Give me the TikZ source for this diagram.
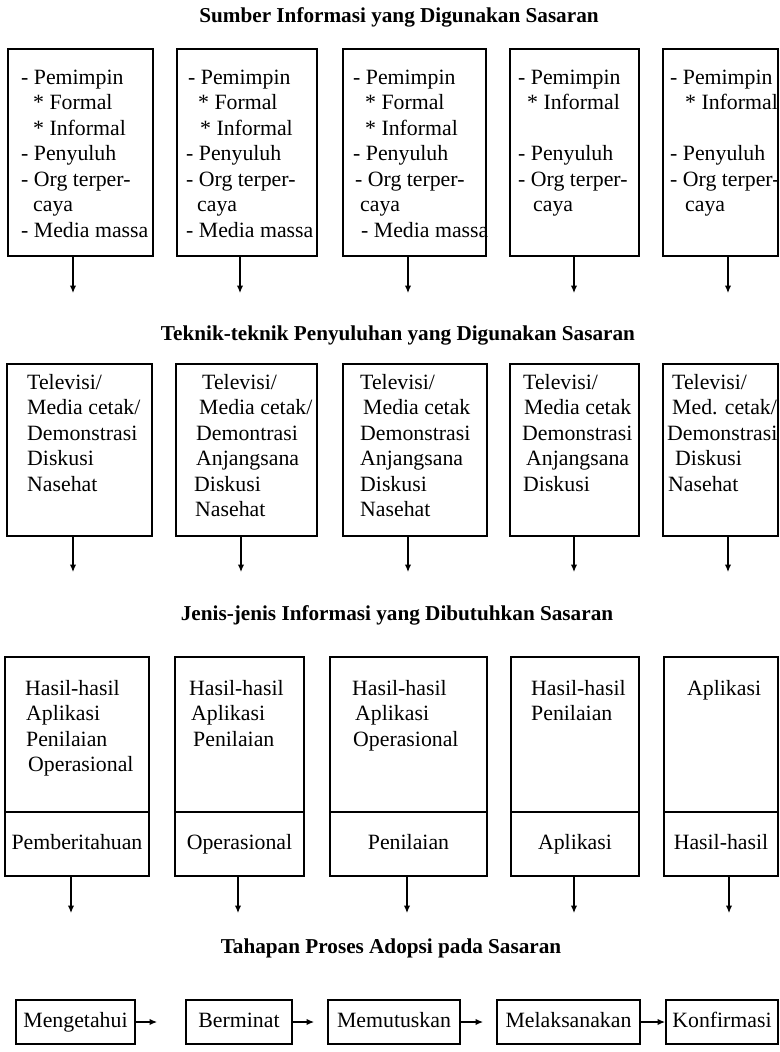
\documentclass[tikz,border=0pt]{standalone}
\usepackage{fontspec}
\setmainfont{Liberation Serif}
\usetikzlibrary{arrows.meta}
\begin{document}
\begin{tikzpicture}[x=1pt,y=-1pt,
  box/.style={draw, line width=1.8pt, rectangle, inner sep=0pt, outer sep=0pt, anchor=north west},
  sz/.style 2 args={minimum width=#1pt, minimum height=#2pt},
  body/.style={font=\fontsize{21.8}{25.5}\selectfont},
  txt/.style={body, anchor=north west, inner sep=0pt, align=left},
  lbl/.style={body, text height=14pt, text depth=4pt},
  ttl/.style={anchor=base, inner sep=0pt, font=\fontsize{21.2}{25}\selectfont\bfseries},
  arr/.style={line width=1.2pt, -{Latex[length=7.5pt,width=6.5pt]}},
]
\useasboundingbox (0,0) rectangle (779,1052);

% ---------- Sumber informasi ----------
\node[ttl] (t1) at (399,23) {Sumber Informasi yang Digunakan Sasaran};

\node[box, sz={145}{207}] (s1) at (8,49) {};
\node[box, sz={140}{207}] (s2) at (177,49) {};
\node[box, sz={143}{207}] (s3) at (343,49) {};
\node[box, sz={129}{207}] (s4) at (510,49) {};
\node[box, sz={115}{207}] (s5) at (663,49) {};

\node[txt] (s1t) at (21,66) {\strut- Pemimpin\\ \hspace*{12pt}* Formal\\ \hspace*{12pt}* Informal\\ - Penyuluh\\ - Org terper-\\ \hspace*{12pt}caya\\ - Media massa};
\node[txt] (s2t) at (186,66) {\strut\hspace*{2pt}- Pemimpin\\ \hspace*{12pt}* Formal\\ \hspace*{14pt}* Informal\\ - Penyuluh\\ - Org terper-\\ \hspace*{11pt}caya\\ - Media massa};
\node[txt] (s3t) at (353,66) {\strut- Pemimpin\\ \hspace*{12pt}* Formal\\ \hspace*{12pt}* Informal\\ - Penyuluh\\ \hspace*{2pt}- Org terper-\\ \hspace*{7pt}caya\\ \hspace*{8pt}- Media massa};
\node[txt] (s4t) at (518,66) {\strut- Pemimpin\\ \hspace*{9pt}* Informal\\[25.5pt] - Penyuluh\\ - Org terper-\\ \hspace*{15pt}caya};
\node[txt] (s5t) at (670,66) {\strut- Pemimpin\\ \hspace*{15pt}* Informal\\[25.5pt] - Penyuluh\\ - Org terper-\\ \hspace*{15pt}caya};

\coordinate (p1) at (73,293);
\coordinate (p2) at (240,293);
\coordinate (p3) at (408,293);
\coordinate (p4) at (574,293);
\coordinate (p5) at (728,293);
\draw[arr] (s1.south -| p1) -- (p1);
\draw[arr] (s2.south -| p2) -- (p2);
\draw[arr] (s3.south -| p3) -- (p3);
\draw[arr] (s4.south -| p4) -- (p4);
\draw[arr] (s5.south -| p5) -- (p5);

% ---------- Teknik penyuluhan ----------
\node[ttl] (t2) at (398,340) {Teknik-teknik Penyuluhan yang Digunakan Sasaran};

\node[box, sz={145}{172}] (k1) at (7,364) {};
\node[box, sz={141}{172}] (k2) at (176,364) {};
\node[box, sz={144}{172}] (k3) at (343,364) {};
\node[box, sz={129}{172}] (k4) at (510,364) {};
\node[box, sz={115}{172}] (k5) at (663,364) {};

\node[txt] (k1t) at (27,371) {\strut Televisi/\\ Media cetak/\\ Demonstrasi\\ Diskusi\\ Nasehat};
\node[txt] (k2t) at (194,371) {\strut\hspace*{8pt}Televisi/\\ \hspace*{5pt}Media cetak/\\ \hspace*{2pt}Demontrasi\\ \hspace*{2pt}Anjangsana\\ Diskusi\\ \hspace*{1pt}Nasehat};
\node[txt] (k3t) at (360,371) {\strut Televisi/\\ \hspace*{3pt}Media cetak\\ Demonstrasi\\ Anjangsana\\ Diskusi\\ Nasehat};
\node[txt] (k4t) at (522,371) {\strut\hspace*{1pt}Televisi/\\ \hspace*{2pt}Media cetak\\ Demonstrasi\\ \hspace*{4pt}Anjangsana\\ \hspace*{1pt}Diskusi};
\node[txt] (k5t) at (667,371) {\strut\hspace*{5pt}Televisi/\\ \hspace*{5pt}Med. cetak/\\ Demonstrasi\\ \hspace*{8pt}Diskusi\\ \hspace*{1pt}Nasehat};

\coordinate (q1) at (73,572);
\coordinate (q2) at (241,572);
\coordinate (q3) at (408,572);
\coordinate (q4) at (574,572);
\coordinate (q5) at (728,572);
\draw[arr] (k1.south -| q1) -- (q1);
\draw[arr] (k2.south -| q2) -- (q2);
\draw[arr] (k3.south -| q3) -- (q3);
\draw[arr] (k4.south -| q4) -- (q4);
\draw[arr] (k5.south -| q5) -- (q5);

% ---------- Jenis informasi ----------
\node[ttl] (t3) at (397,620) {Jenis-jenis Informasi yang Dibutuhkan Sasaran};

\node[box, sz={144}{155}] (j1) at (5,657) {};
\node[box, sz={129}{155}] (j2) at (175,657) {};
\node[box, sz={157}{155}] (j3) at (330,657) {};
\node[box, sz={128}{155}] (j4) at (511,657) {};
\node[box, sz={114}{155}] (j5) at (664,657) {};

\node[box, lbl, sz={144}{64}] (b1) at (5,812) {Pemberitahuan};
\node[box, lbl, sz={129}{64}] (b2) at (175,812) {Operasional};
\node[box, lbl, sz={157}{64}] (b3) at (330,812) {Penilaian};
\node[box, lbl, sz={128}{64}] (b4) at (511,812) {Aplikasi};
\node[box, lbl, sz={114}{64}] (b5) at (664,812) {Hasil-hasil};

\node[txt] (j1t) at (25,677) {\strut Hasil-hasil\\ \hspace*{1pt}Aplikasi\\ \hspace*{1pt}Penilaian\\ \hspace*{3pt}Operasional};
\node[txt] (j2t) at (189,677) {\strut Hasil-hasil\\ \hspace*{2pt}Aplikasi\\ \hspace*{4pt}Penilaian};
\node[txt] (j3t) at (352,677) {\strut Hasil-hasil\\ \hspace*{3pt}Aplikasi\\ \hspace*{1pt}Operasional};
\node[txt] (j4t) at (531,677) {\strut Hasil-hasil\\ Penilaian};
\node[txt] (j5t) at (687,677) {\strut Aplikasi};

\coordinate (r1) at (71,913);
\coordinate (r2) at (238,913);
\coordinate (r3) at (407,913);
\coordinate (r4) at (574,913);
\coordinate (r5) at (729,913);
\draw[arr] (b1.south -| r1) -- (r1);
\draw[arr] (b2.south -| r2) -- (r2);
\draw[arr] (b3.south -| r3) -- (r3);
\draw[arr] (b4.south -| r4) -- (r4);
\draw[arr] (b5.south -| r5) -- (r5);

% ---------- Tahapan adopsi ----------
\node[ttl] (t4) at (391,953) {Tahapan Proses Adopsi pada Sasaran};

\node[box, lbl, sz={119}{44}] (m1) at (16,1000) {Mengetahui};
\node[box, lbl, sz={106}{44}] (m2) at (186,1000) {Berminat};
\node[box, lbl, sz={132}{44}] (m3) at (328,1000) {Memutuskan};
\node[box, lbl, sz={143}{44}] (m4) at (497,1000) {Melaksanakan};
\node[box, lbl, sz={112}{44}] (m5) at (666,1000) {Konfirmasi};

\draw[arr, shorten >=29pt] (m1.east) -- (m2.west);
\draw[arr, shorten >=14pt] (m2.east) -- (m3.west);
\draw[arr, shorten >=14pt] (m3.east) -- (m4.west);
\draw[arr, shorten >=1pt] (m4.east) -- (m5.west);
\end{tikzpicture}
\end{document}
